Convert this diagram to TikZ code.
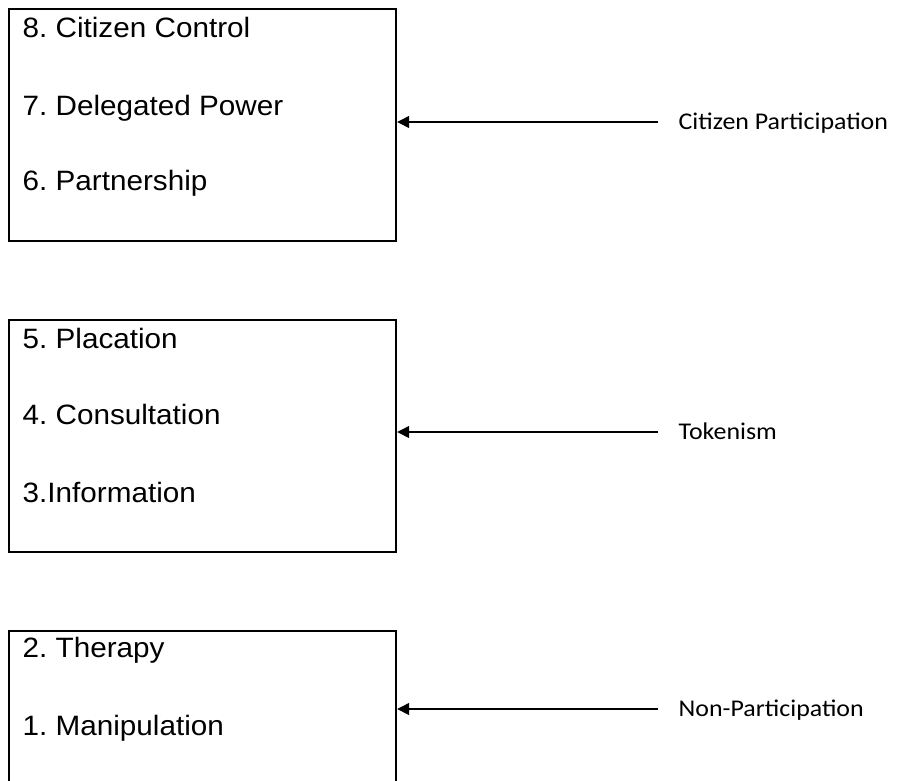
\documentclass[tikz,border=0pt]{standalone}
\usepackage{fontspec}
\setmainfont[FakeStretch=1.06]{Liberation Sans}
\newfontfamily\tagfont[FakeStretch=1.08]{Carlito}
\usetikzlibrary{arrows.meta}

\tikzset{
    ladder/.style={draw, line width=2.2pt, rectangle, minimum width=387pt, minimum height=232pt, anchor=north west, inner sep=0pt},
    rung/.style={anchor=base west, inner sep=0pt, font=\fontsize{28}{33}\selectfont},
    group/.style={anchor=base west, inner ysep=0pt, inner xsep=20pt, font=\tagfont\fontsize{24}{29}\selectfont}
}

\begin{document}
\frenchspacing
\begin{tikzpicture}[x=1pt, y=-1pt, >={Triangle[length=12pt,width=12pt]}, line width=1.3pt]
    \useasboundingbox (0,0) rectangle (909,780);
    \clip (0,0) rectangle (909,780);

    % Boxes {b1, b2, b3}
    \node [ladder] (b1) at (8,8)   {};
    \node [ladder] (b2) at (8,319) {};
    \node [ladder] (b3) at (8,630) {};

    % Rungs {r8, r7, ... r1}
    \node [rung] (r8) at (22,37)  {8. Citizen Control};
    \node [rung] (r7) at (22,115) {7. Delegated Power};
    \node [rung] (r6) at (22,190) {6. Partnership};
    \node [rung] (r5) at (22,348) {5. Placation};
    \node [rung] (r4) at (22,424) {4. Consultation};
    \node [rung] (r3) at (22,502) {3.Information};
    \node [rung] (r2) at (22,657) {2. Therapy};
    \node [rung] (r1) at (22,735) {1. Manipulation};

    % Groups
    \node [group] (g1) at (658,129) {Citizen Participation};
    \node [group] (g2) at (658,439) {Tokenism};
    \node [group] (g3) at (658,716) {Non-Participation};
    \coordinate (t1) at ([yshift=7pt]g1.base west);
    \coordinate (t2) at ([yshift=7pt]g2.base west);
    \coordinate (t3) at ([yshift=7pt]g3.base west);

    % Paths
    \path [->] (t1) edge (b1.east |- t1);
    \path [->] (t2) edge (b2.east |- t2);
    \path [->] (t3) edge (b3.east |- t3);

\end{tikzpicture}
\end{document}
